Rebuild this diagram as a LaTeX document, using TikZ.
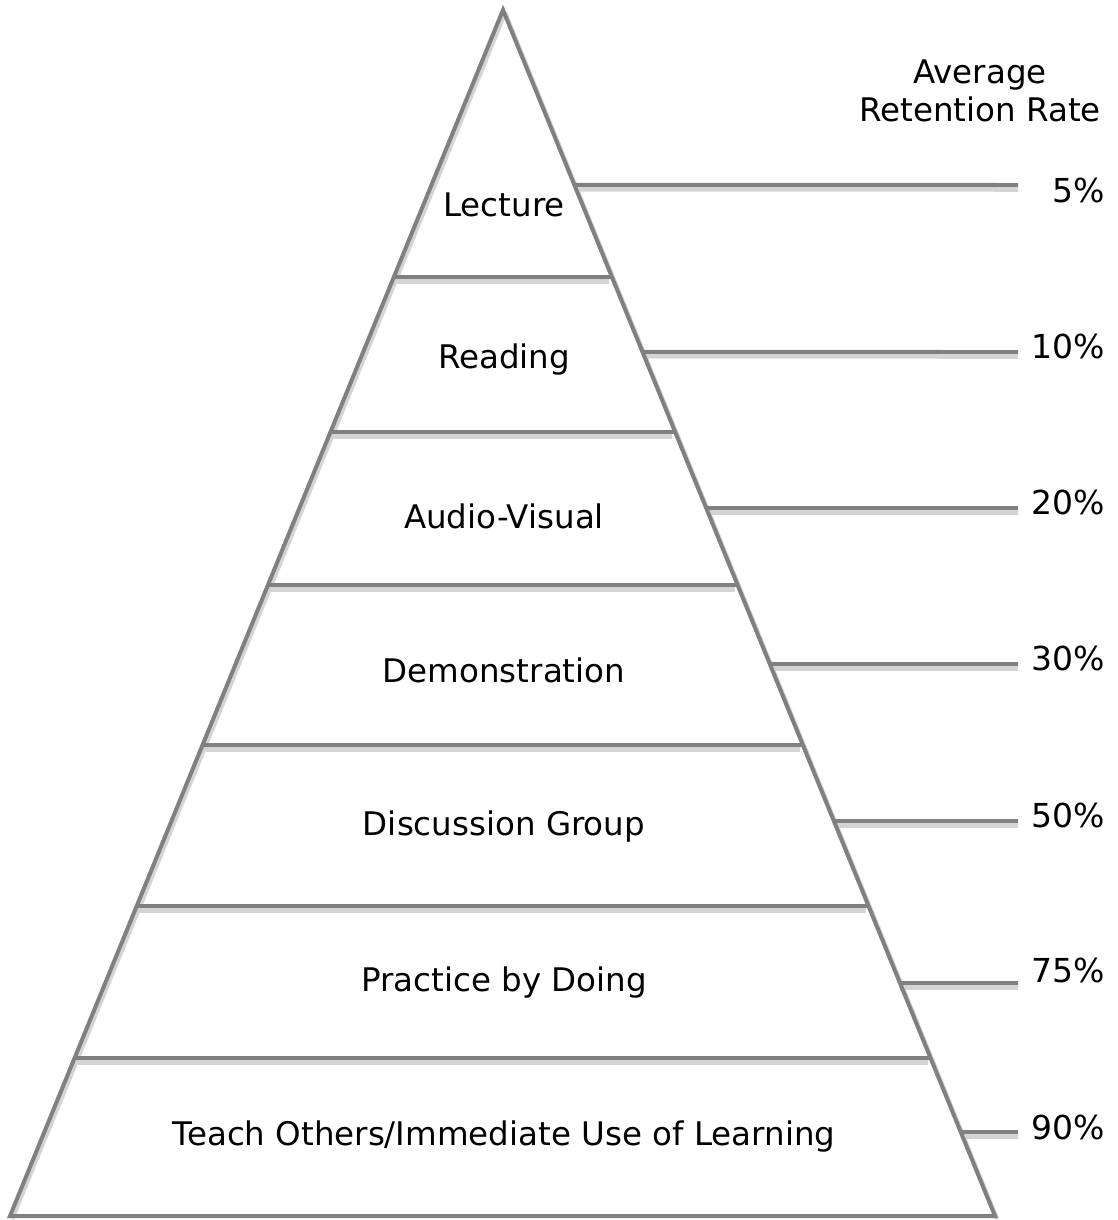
\documentclass[tikz,border=0pt]{standalone}
\usepackage{fontspec}
\setmainfont{DejaVu Sans}
\usetikzlibrary{calc}

\begin{document}
\begin{tikzpicture}[x=1pt,y=-1pt,
  rule/.style={draw=gray,line width=4pt},
  shade/.style={draw=black!17,line width=4.5pt},
  tier/.style={font=\fontsize{32.5}{38}\selectfont},
  pct/.style={font=\fontsize{33}{38}\selectfont,anchor=east}]
\useasboundingbox (0,0) rectangle (1118,1220);

% corners of the pyramid
\coordinate (top) at (503,10);
\coordinate (bl) at (10,1216);
\coordinate (br) at (995,1216);

% ends of the dividers on both sides
\foreach \y [count=\i] in {277,432,585,745,906,1058}{
  \coordinate (l\i) at ($(top)!{(\y-10)/1206}!(bl)$);
  \coordinate (r\i) at ($(top)!{(\y-10)/1206}!(br)$);
}
% leader lines to the rates
\foreach \y [count=\i] in {185,352,508,664,821,983,1132}{
  \coordinate (e\i) at ($(top)!{(\y-10)/1206}!(br)$);
  \coordinate (f\i) at (1018,\y);
}

% drop shadows
\draw[shade] ($(top)+(2,3)$) -- ($(bl)+(2,3)$);
\draw[shade] ($(top)+(2,3)$) -- ($(br)+(2,3)$);
\foreach \i in {1,...,6}
  \draw[shade] ($(l\i)+(3,4.5)$) -- ($(r\i)+(-3,4.5)$);
\foreach \i in {1,...,7}
  \draw[shade] ($(e\i)+(0,4.5)$) -- ($(f\i)+(0,4.5)$);

% pyramid and rules
\draw[rule,line join=miter] (top) -- (bl) -- (br) -- cycle;
\foreach \i in {1,...,6}
  \draw[rule] (l\i) -- (r\i);
\foreach \i in {1,...,7}
  \draw[rule] (e\i) -- (f\i);

% tiers
\node[tier] (lecture) at (504,205) {Lecture};
\node[tier] (reading) at (504,360) {Reading};
\node[tier] (av) at (504,516) {Audio-Visual};
\node[tier] (demo) at (504,670) {Demonstration};
\node[tier] (discuss) at (504,827) {Discussion Group};
\node[tier] (practice) at (504,983) {Practice by Doing};
\node[tier] (teach) at (504,1137) {Teach Others/Immediate Use of Learning};

% rates
\node[tier,align=center] (head) at (980,91) {Average\\Retention Rate};
\foreach \y/\p [count=\i] in {190/5,346/10,502/20,658/30,815/50,970/75,1127/90}
  \node[pct] (pct\i) at (1108,\y) {\p\%};
\end{tikzpicture}
\end{document}
